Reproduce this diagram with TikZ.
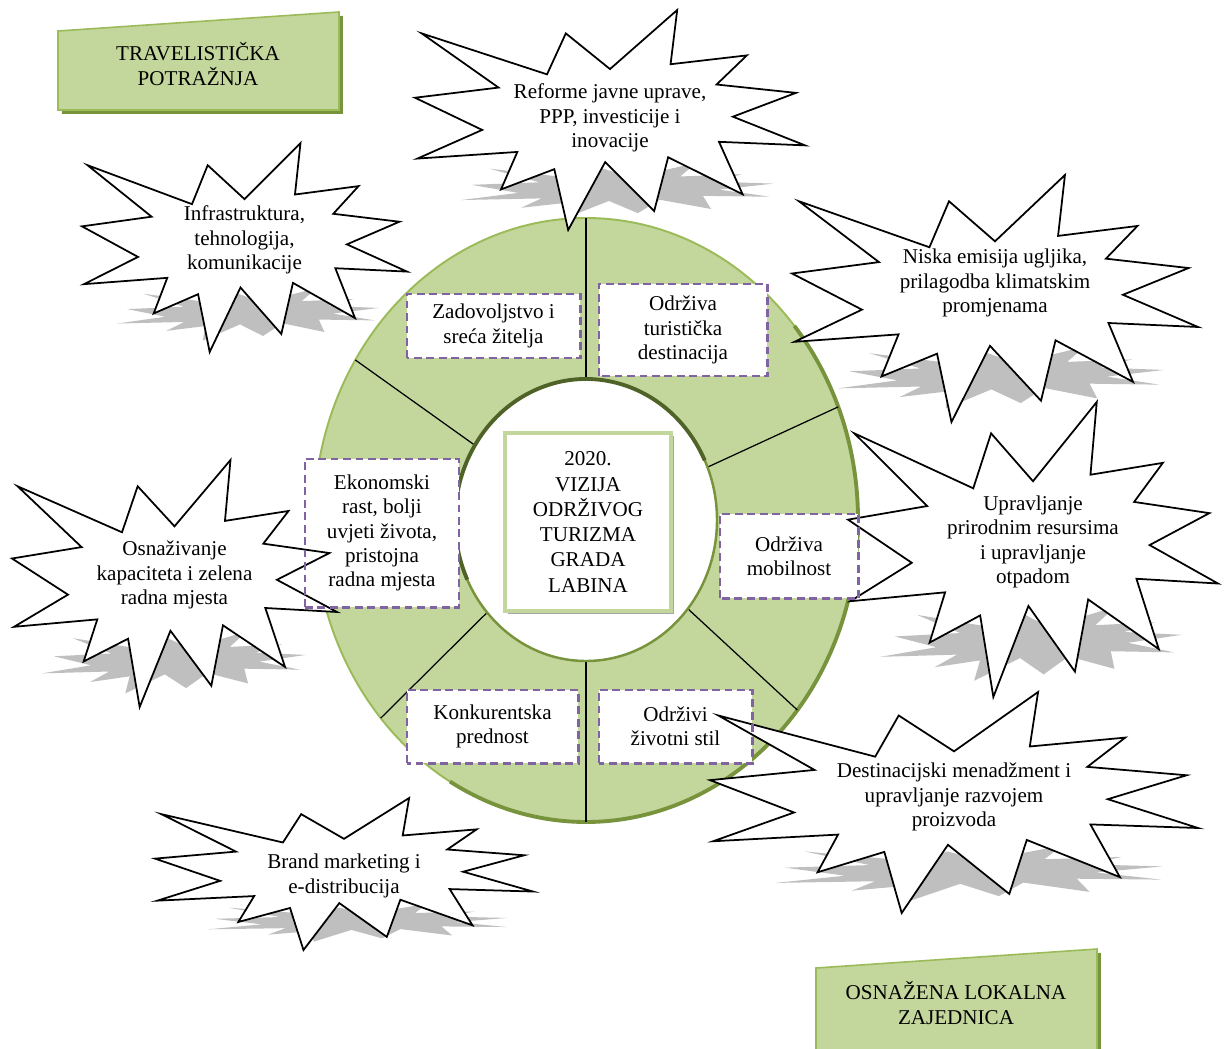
\documentclass[tikz,border=0pt]{standalone}
\usepackage{fontspec}
\setmainfont{Liberation Serif}
\usetikzlibrary{calc,shadows}
\definecolor{ringgreen}{RGB}{195,214,155}
\definecolor{ringedge}{RGB}{155,187,89}
\definecolor{ringdark}{RGB}{119,147,60}
\definecolor{olivedark}{RGB}{79,98,40}
\definecolor{boxpurple}{RGB}{128,100,162}
\definecolor{burstgray}{RGB}{191,191,191}
\newcommand{\pxu}{0.02cm}
% outline of one explosion, in percent of its box
\newcommand{\burstpath}{(50,26.85) -- (67.23,0) -- (65.53,24.65) -- (85.09,20.63) -- (77.32,33.87) -- (97.67,37.67) -- (81.51,48.50) -- (100,61.53) -- (77.95,59.92) -- (84.00,83.77) -- (64.91,66.93) -- (61.33,91.38) -- (48.76,69.14) -- (39.28,100) -- (35.72,72.35) -- (22.05,81.56) -- (26.24,64.52) -- (0.63,67.53) -- (17.23,54.51) -- (0,39.88) -- (21.42,35.26) -- (1.71,10.63) -- (33.85,29.26) -- (38.67,10.63) -- cycle}
% #1 name, #2 left, #3 top, #4 width, #5 height, #6 text y, #7 text
\newcommand{\burst}[7]{%
  \begin{scope}[shift={(#2+0.19*#4,#3+0.695*#5)}, xslant=0.8, xscale=0.79*#4/100, yscale=0.25*#5/100]
    \fill[burstgray] \burstpath;
  \end{scope}
  \begin{scope}[shift={(#2,#3)}, xscale=#4/100, yscale=#5/100]
    \draw[burstline] \burstpath;
  \end{scope}
  \node[bursttext] (#1) at (#2+#4/2,#6) {#7};}

\begin{document}
\begin{tikzpicture}[x=0.02cm, y=-0.02cm,
  every node/.style={font=\fontsize{12}{13.8}\selectfont},
  burstline/.style={draw=black, fill=white, line width=1pt},
  bursttext/.style={align=center, inner sep=0pt},
  dashbox/.style={fill=white, align=center, inner sep=0pt},
  dashline/.style={draw=boxpurple, line width=1.3pt, dash pattern=on 4.5pt off 2.6pt},
  divider/.style={black, line width=0.7pt},
  banner/.style={fill=ringgreen, draw=ringedge, line width=0.9pt, drop shadow={shadow xshift=2.2pt, shadow yshift=-2.2pt, fill=ringdark, opacity=1}},
  bannertext/.style={align=center, inner sep=0pt}]
\fill[white] (0,0) rectangle (1227,1048);
\useasboundingbox (0,0) rectangle (1227,1048);

% ring
\coordinate (c) at (586,520);
\fill[ringgreen] (c) ellipse [x radius=272, y radius=302];
\draw[ringedge, line width=1.1pt] (c) ellipse [x radius=272, y radius=302];
\draw[ringdark, line width=2.2pt] ($(c)+(-40:272 and 302)$) arc[start angle=-40, end angle=120, x radius=272, y radius=302];
\foreach \a in {90,148,22,221,270,321}
  \draw[divider] ($(c)+(-\a:272 and 302)$) -- ($(c)+(-\a:131 and 141)$);
\fill[white] (c) ellipse [x radius=131, y radius=141];
\draw[ringdark, line width=1.4pt] (c) ellipse [x radius=131, y radius=141];
\draw[olivedark, line width=2.2pt] ($(c)+(-205:131 and 141)$) arc[start angle=-205, end angle=-25, x radius=131, y radius=141];

% banners
\draw[banner] (58,31) -- (339,12) -- (339,110) -- (58,110) -- cycle;
\node[bannertext] (demand) at (198,64) {TRAVELISTIČKA\\ POTRAŽNJA};
\draw[banner] (816,968) -- (1097,949) -- (1097,1060) -- (816,1060) -- cycle;
\node[bannertext] (community) at (956,1003) {OSNAŽENA LOKALNA\\ ZAJEDNICA};

% boxes in the ring
\node[dashbox, minimum width=173*\pxu, minimum height=64*\pxu] (sat) at (493.5,326) {Zadovoljstvo i\\ sreća žitelja};
\node[dashbox, minimum width=168*\pxu, minimum height=92*\pxu] (dest) at (683,330) {Održiva\\ turistička\\ destinacija};
\node[dashbox, minimum width=154*\pxu, minimum height=148*\pxu] (econ) at (382,533) {Ekonomski\\ rast, bolji\\ uvjeti života,\\ pristojna\\ radna mjesta};
\node[dashbox, minimum width=138*\pxu, minimum height=84*\pxu] (mobil) at (789,556) {Održiva\\ mobilnost};
\node[dashbox, minimum width=171*\pxu, minimum height=73*\pxu] (compet) at (492.5,726.5) {Konkurentska\\ prednost};
\node[dashbox, minimum width=153*\pxu, minimum height=73*\pxu] (life) at (675.5,726.5) {Održivi\\ životni stil};

% vision
\node[draw=ringgreen, line width=2.2pt, fill=white, minimum width=166*\pxu, minimum height=178*\pxu, align=center, font=\fontsize{12}{14.4}\selectfont, drop shadow={shadow xshift=1.6pt, shadow yshift=-1.6pt, fill=black!35, opacity=1}] (vision) at (588,522) {2020.\\ VIZIJA\\ ODRŽIVOG\\ TURIZMA\\ GRADA\\ LABINA};

% explosions
\burst{reform}{415}{10}{390}{220}{118}{Reforme javne uprave,\\ PPP, investicije i\\ inovacije}
\burst{infra}{82}{143}{325}{209}{240}{Infrastruktura,\\ tehnologija,\\ komunikacije}
\burst{carbon}{792}{175}{406}{247}{283}{Niska emisija ugljika,\\ prilagodba klimatskim\\ promjenama}
\burst{nature}{848}{402}{370}{295}{542}{Upravljanje\\ prirodnim resursima\\ i upravljanje\\ otpadom}
\burst{skills}{12}{460}{325}{247}{575}{Osnaživanje\\ kapaciteta i zelena\\ radna mjesta}
\burst{mgmt}{710}{692}{488}{221}{797}{Destinacijski menadžment i\\ upravljanje razvojem\\ proizvoda}
\burst{brand}{155}{798}{378}{152}{876}{Brand marketing i\\ e-distribucija}

\foreach \b in {sat,dest,econ,mobil,compet,life}
  \draw[dashline] (\b.south west) rectangle (\b.north east);
\end{tikzpicture}
\end{document}
